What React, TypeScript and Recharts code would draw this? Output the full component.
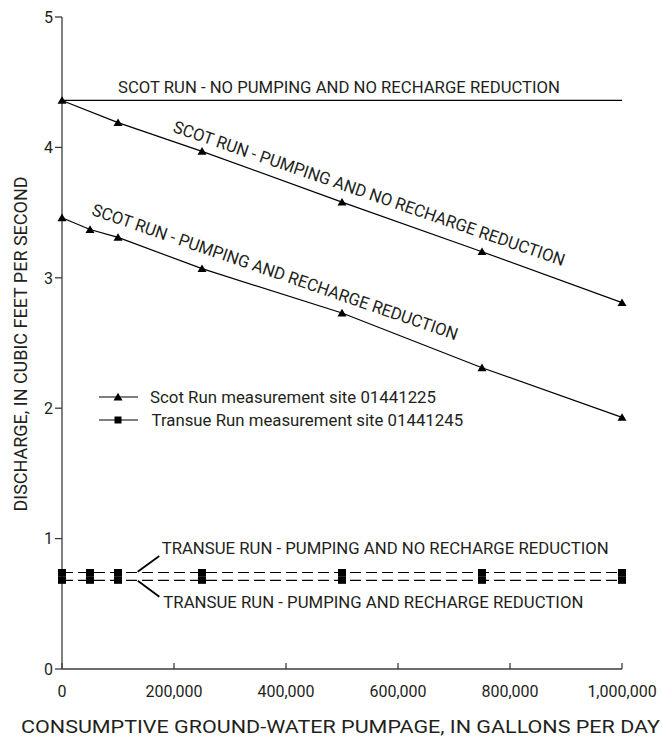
import React from 'react';
import { LineChart, Line, XAxis, YAxis, ReferenceDot, Legend, Label } from 'recharts';

const FONT = "Roboto, 'DejaVu Sans Condensed', sans-serif";
const FW = 400;
const INK = '#231f20';
const AXIS = '#3c3c3c';

// ---- data ----
const pumpage = [0, 50000, 100000, 250000, 500000, 750000, 1000000];
const scotBaseX = [0, 1000000];
const scotBase = [4.36, 4.36];
const scotPumpX = [0, 100000, 250000, 500000, 750000, 1000000];
const scotPump = [4.36, 4.19, 3.97, 3.58, 3.2, 2.81];
const scotPumpRecharge = [3.46, 3.37, 3.31, 3.07, 2.73, 2.31, 1.93];
const transuePump = [0.74, 0.74, 0.74, 0.74, 0.74, 0.74, 0.74];
const transuePumpRecharge = [0.68, 0.68, 0.68, 0.68, 0.68, 0.68, 0.68];
const xTicks = [0, 200000, 400000, 600000, 800000, 1000000];
const yTicks = [0, 1, 2, 3, 4, 5];

const toRows = (xs: number[], ys: number[]) => xs.map((x, i) => ({ x, y: ys[i] }));

const fmt = (v: number) => v.toLocaleString('en-US');

const Triangle = (props: any) => {
  const { cx, cy, key } = props;
  if (cx == null || cy == null) return <g key={key} />;
  return (
    <path
      key={key}
      d={`M${cx},${cy - 4.2} L${cx + 4.5},${cy + 3.4} L${cx - 4.5},${cy + 3.4} Z`}
      fill="#000"
    />
  );
};

const UpperRect = (props: any) => {
  const { cx, cy, key } = props;
  if (cx == null || cy == null) return <g key={key} />;
  return <rect key={key} x={cx - 4} y={cy - 3.5} width={8} height={7.5} fill="#000" />;
};
const LowerRect = (props: any) => {
  const { cx, cy, key } = props;
  if (cx == null || cy == null) return <g key={key} />;
  return <rect key={key} x={cx - 4} y={cy - 4} width={8} height={7.5} fill="#000" />;
};

const XTick = (props: any) => {
  const { x, y, payload } = props;
  return (
    <g>
      <line x1={x} x2={x} y1={y - 16} y2={y - 22} stroke={AXIS} strokeWidth={1.3} />
      <text x={x} y={y + 11.7} textAnchor="middle" fontSize={16} fontWeight={FW} fontFamily={FONT} fill={INK}>
        {fmt(payload.value)}
      </text>
    </g>
  );
};

const YTick = (props: any) => {
  const { x, y, payload } = props;
  return (
    <text x={x} y={y + 5.8} textAnchor="end" fontSize={16} fontWeight={FW} fontFamily={FONT} fill={INK}>
      {payload.value}
    </text>
  );
};

const TopTick = (props: any) => {
  const { x, y } = props;
  return <line x1={x} x2={x} y1={y} y2={y + 7} stroke={AXIS} strokeWidth={1.3} />;
};

const RightTick = (props: any) => {
  const { x, y } = props;
  return <line x1={x} x2={x - 8} y1={y} y2={y} stroke={AXIS} strokeWidth={1.3} />;
};

const center = (vb: any) => ({ cx: vb.x + (vb.width || 0) / 2, cy: vb.y + (vb.height || 0) / 2 });

const slantLabel = (text: string, angle: number, len: number) => (props: any) => {
  const { cx, cy } = center(props.viewBox);
  return (
    <text
      x={cx}
      y={cy}
      textAnchor="middle"
      transform={`rotate(${angle} ${cx} ${cy})`}
      fontSize={17}
      fontWeight={FW}
      fontFamily={FONT}
      fill={INK}
      textLength={len}
      lengthAdjust="spacingAndGlyphs"
    >
      {text}
    </text>
  );
};

const leaderLabel = (text: string, len: number, l1: [number, number], l2: [number, number]) => (props: any) => {
  const { cx, cy } = center(props.viewBox);
  return (
    <g>
      <line x1={cx + l1[0]} y1={cy + l1[1]} x2={cx + l2[0]} y2={cy + l2[1]} stroke="#000" strokeWidth={1.8} />
      <text
        x={cx}
        y={cy}
        textAnchor="start"
        fontSize={17}
        fontWeight={FW}
        fontFamily={FONT}
        fill={INK}
        textLength={len}
        lengthAdjust="spacingAndGlyphs"
      >
        {text}
      </text>
    </g>
  );
};

const XTitle = (props: any) => {
  const vb = props.viewBox;
  const x = vb.x + vb.width / 2 - 1.5;
  const y = vb.y + 64;
  return (
    <text x={x} y={y} textAnchor="middle" fontSize={18.5} fontWeight={FW} fontFamily={FONT} fill={INK} textLength={639} lengthAdjust="spacingAndGlyphs">
      CONSUMPTIVE GROUND-WATER PUMPAGE, IN GALLONS PER DAY
    </text>
  );
};

const YTitle = (props: any) => {
  const vb = props.viewBox;
  const x = 26.7;
  const y = vb.y + vb.height / 2 + 1;
  return (
    <text x={x} y={y} textAnchor="middle" transform={`rotate(-90 ${x} ${y})`} fontSize={18.5} fontWeight={FW} fontFamily={FONT} fill={INK} textLength={335} lengthAdjust="spacingAndGlyphs">
      DISCHARGE, IN CUBIC FEET PER SECOND
    </text>
  );
};

const LegendBox = () => (
  <svg width={400} height={50} style={{ display: 'block', overflow: 'visible' }}>
    <line x1={6} x2={45} y1={14} y2={14} stroke="#000" strokeWidth={1.2} />
    <path d={`M25,${14 - 4.2} L29.5,${14 + 3.4} L20.5,${14 + 3.4} Z`} fill="#000" />
    <text x={57} y={19.7} fontSize={17} fontWeight={FW} fontFamily={FONT} fill={INK} textLength={286} lengthAdjust="spacingAndGlyphs">
      Scot Run measurement site 01441225
    </text>
    <line x1={6} x2={45} y1={37} y2={37} stroke="#000" strokeWidth={1.2} />
    <rect x={21.5} y={33.5} width={7} height={7} fill="#000" />
    <text x={58.5} y={42.7} fontSize={17} fontWeight={FW} fontFamily={FONT} fill={INK} textLength={311.6} lengthAdjust="spacingAndGlyphs">
      Transue Run measurement site 01441245
    </text>
  </svg>
);

export default function App() {
  return (
    <div style={{ position: 'absolute', left: 0, top: 0, width: 662, height: 738, overflow: 'hidden', background: '#fff' }}>
      <LineChart width={662} height={738} margin={{ top: 17, right: 40, bottom: 39, left: 8 }}>
        <XAxis
          dataKey="x"
          type="number"
          domain={[0, 1000000]}
          ticks={xTicks}
          height={30}
          tickSize={0}
          tickMargin={16}
          tickLine={false}
          tick={XTick}
          axisLine={{ stroke: AXIS, strokeWidth: 1.3 }}
        >
          <Label content={XTitle} />
        </XAxis>
        <XAxis
          xAxisId="top"
          orientation="top"
          dataKey="x"
          type="number"
          domain={[0, 1000000]}
          ticks={xTicks}
          height={0}
          tickSize={0}
          tickMargin={0}
          tickLine={false}
          tick={TopTick}
          axisLine={{ stroke: AXIS, strokeWidth: 1.3 }}
        />
        <YAxis
          type="number"
          domain={[0, 5]}
          ticks={yTicks}
          width={54}
          tickSize={7}
          tickMargin={2}
          tickLine={{ stroke: AXIS, strokeWidth: 1.3 }}
          tick={YTick}
          axisLine={{ stroke: AXIS, strokeWidth: 1.3 }}
        >
          <Label content={YTitle} />
        </YAxis>
        <YAxis
          yAxisId="right"
          orientation="right"
          type="number"
          domain={[0, 5]}
          ticks={yTicks}
          width={0}
          tickSize={0}
          tickMargin={0}
          tickLine={false}
          tick={RightTick}
          axisLine={{ stroke: AXIS, strokeWidth: 1.3 }}
        />

        <Legend
          layout="vertical"
          align="center"
          verticalAlign="middle"
          content={LegendBox}
          wrapperStyle={{ left: 93, top: 383, width: 400, height: 50 }}
        />

        <Line data={toRows(scotBaseX, scotBase)} dataKey="y" stroke="#000" strokeWidth={1.2} dot={false} isAnimationActive={false} />
        <Line data={toRows(scotPumpX, scotPump)} dataKey="y" stroke="#000" strokeWidth={1.2} dot={Triangle} isAnimationActive={false} />
        <Line data={toRows(pumpage, scotPumpRecharge)} dataKey="y" stroke="#000" strokeWidth={1.2} dot={Triangle} isAnimationActive={false} />
        <Line data={toRows(pumpage, transuePump)} dataKey="y" stroke="#000" strokeWidth={1.2} strokeDasharray="11 5" dot={UpperRect} isAnimationActive={false} />
        <Line data={toRows(pumpage, transuePumpRecharge)} dataKey="y" stroke="#000" strokeWidth={1.2} strokeDasharray="11 5" dot={LowerRect} isAnimationActive={false} />

        <ReferenceDot x={494600} y={4.415} r={0} fill="none" stroke="none" label={slantLabel('SCOT RUN - NO PUMPING AND NO RECHARGE REDUCTION', 0, 442)} />
        <ReferenceDot x={545000} y={3.605} r={0} fill="none" stroke="none" label={slantLabel('SCOT RUN - PUMPING AND NO RECHARGE REDUCTION', 19, 413)} />
        <ReferenceDot x={377000} y={3.002} r={0} fill="none" stroke="none" label={slantLabel('SCOT RUN - PUMPING AND RECHARGE REDUCTION', 19, 386)} />
        <ReferenceDot
          x={178000}
          y={0.882}
          r={0}
          fill="none"
          stroke="none"
          label={leaderLabel('TRANSUE RUN - PUMPING AND NO RECHARGE REDUCTION', 447, [-24, 17.7], [-2.4, 2])}
        />
        <ReferenceDot
          x={181000}
          y={0.4655}
          r={0}
          fill="none"
          stroke="none"
          label={leaderLabel('TRANSUE RUN - PUMPING AND RECHARGE REDUCTION', 420, [-25.6, -27.6], [-4, -11.6])}
        />
      </LineChart>
    </div>
  );
}
